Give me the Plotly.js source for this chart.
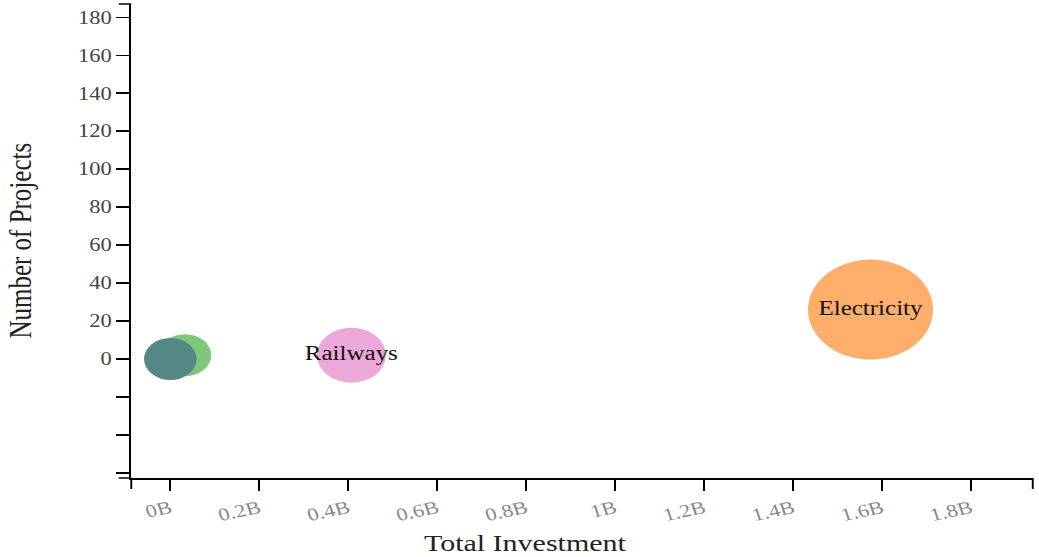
<!DOCTYPE html>
<html>
<head>
<meta charset="utf-8">
<script src="https://cdn.plot.ly/plotly-3.0.1.min.js"></script>
<style>
  html, body { margin: 0; padding: 0; background: #fff; overflow: hidden; }
  #wrap { width: 1039px; height: 557px; overflow: hidden; }
  #chart { width: 831px; height: 557px; transform-origin: 0 0; transform: scaleX(1.2503); }
</style>
</head>
<body>
<div id="wrap"><div id="chart"></div></div>
<script>
// ---- data ----
const categories = ["Electricity", "Railways", "Roads", "Telecom"];
const labels = ["Electricity", "Railways", "", ""];
const totalInvestment = [1.574e9, 0.407e9, 0.033e9, 0.0];
const numProjects = [26, 2, 2, 0];
const bubbleSize = [100, 55, 42, 42];
const colors = ["#fdae6b", "#eba8d8", "#7fc77b", "#548885"];

const xTickVals = [0, 0.2e9, 0.4e9, 0.6e9, 0.8e9, 1.0e9, 1.2e9, 1.4e9, 1.6e9, 1.8e9];
const xTickText = ["0B", "0.2B", "0.4B", "0.6B", "0.8B", "1B", "1.2B", "1.4B", "1.6B", "1.8B"];
const yTickVals = [-60, -40, -20, 0, 20, 40, 60, 80, 100, 120, 140, 160, 180];
const yTickText = ["", "", "", "0", "20", "40", "60", "80", "100", "120", "140", "160", "180"];

const serif = "Liberation Serif, Times New Roman, serif";

const trace = {
  type: "scatter",
  mode: "markers+text",
  x: totalInvestment,
  y: numProjects,
  customdata: categories,
  text: labels,
  textposition: "middle center",
  textfont: { family: serif, size: 20, color: "#111" },
  marker: {
    size: bubbleSize,
    sizemode: "diameter",
    sizeref: 1,
    color: colors,
    opacity: 1,
    line: { width: 0 }
  },
  hovertemplate: "%{customdata}<br>%{x}<br>%{y}<extra></extra>",
  cliponaxis: false,
  showlegend: false
};

function edgeTick(axis, at) {
  if (axis === "y") {
    return { type: "line", xref: "paper", yref: "paper", xsizemode: "pixel", xanchor: 0,
             x0: -10, x1: 0, y0: at, y1: at, line: { color: "#000", width: 1.5 } };
  }
  return { type: "line", xref: "paper", yref: "paper", ysizemode: "pixel", yanchor: 0,
           y0: 0, y1: -11, x0: at, x1: at, line: { color: "#000", width: 1.5 } };
}

const layout = {
  width: 831,
  height: 557,
  margin: { l: 105, r: 5, t: 4, b: 79 },
  paper_bgcolor: "#fff",
  plot_bgcolor: "#fff",
  showlegend: false,
  xaxis: {
    range: [-0.0877e9, 1.9387e9],
    tickmode: "array",
    tickvals: xTickVals,
    ticktext: xTickText,
    tickangle: -15,
    ticks: "outside",
    ticklen: 11,
    tickwidth: 1.5,
    tickcolor: "#000",
    tickfont: { family: serif, size: 18, color: "#888" },
    showline: true,
    linecolor: "#000",
    linewidth: 2,
    showgrid: false,
    zeroline: false,
    fixedrange: true
  },
  yaxis: {
    range: [-62.7, 187.0],
    tickmode: "array",
    tickvals: yTickVals,
    ticktext: yTickText,
    ticks: "outside",
    ticklen: 10,
    tickwidth: 1.5,
    tickcolor: "#000",
    tickfont: { family: serif, size: 18, color: "#444" },
    showline: true,
    linecolor: "#000",
    linewidth: 2,
    showgrid: false,
    zeroline: false,
    fixedrange: true
  },
  shapes: [edgeTick("y", 1), edgeTick("y", 0), edgeTick("x", 0), edgeTick("x", 1)],
  annotations: [
    { text: "Total Investment", xref: "paper", yref: "paper", x: 0.437, y: -0.137,
      xanchor: "center", yanchor: "middle", showarrow: false,
      font: { family: serif, size: 24, color: "#222" } },
    { text: "Number of Projects", xref: "paper", yref: "paper", x: -0.124, y: 0.5,
      xanchor: "center", yanchor: "middle", textangle: -90, showarrow: false,
      font: { family: serif, size: 25, color: "#222" } }
  ]
};

Plotly.newPlot("chart", [trace], layout, { displayModeBar: false, staticPlot: true });
</script>
</body>
</html>
